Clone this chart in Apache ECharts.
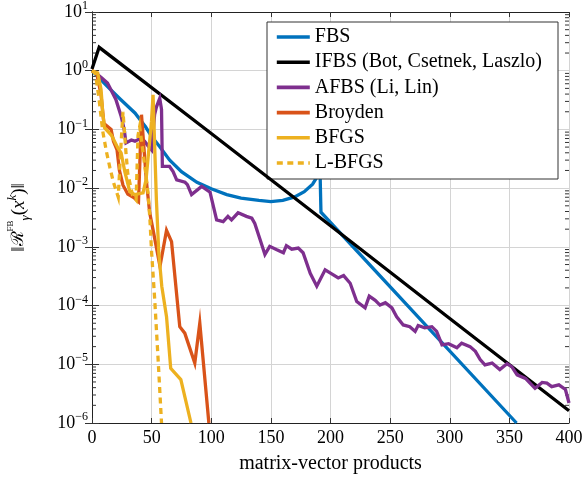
<!DOCTYPE html>
<html>
<head>
<meta charset="utf-8">
<script src="https://cdn.jsdelivr.net/npm/echarts@6/dist/echarts.min.js"></script>
<style>
  html, body { margin: 0; padding: 0; background: #fff; }
  #chart { width: 585px; height: 482px; }
</style>
</head>
<body>
<div id="chart"></div>
<script>
// Residual norm versus matrix-vector products, one [x, y] list per method
const fbs = [[0,1],[12,0.562],[24,0.324],[36,0.191],[45,0.110],[50,0.0759],[57,0.0501],[65,0.0302],[75,0.0191],[88,0.0126],[100,0.00977],[113,0.00776],[125,0.00676],[140,0.00617],[150,0.00589],[160,0.00617],[170,0.00708],[178,0.00871],[185,0.0117],[189,0.0158],[191,0.0316],[192,0.00389],[356,1e-6]];
const ifbs = [[0,1.07],[6,2.5],[100,0.0851],[200,0.00229],[300,6.03e-5],[400,1.62e-6]];
const afbs = [[0,1],[2,0.955],[8,0.759],[13,0.617],[20,0.324],[24.5,0.166],[27,0.1],[28.5,0.0589],[33,0.0661],[36,0.0631],[40,0.0692],[44,0.0631],[47,0.0525],[50,0.0447],[52.5,0.178],[54,0.240],[56.8,0.339],[58.3,0.219],[59,0.0234],[65,0.0234],[68,0.0191],[71,0.0138],[78,0.0126],[80,0.0115],[83.5,0.00776],[85,0.00794],[92,0.0107],[99,0.00851],[100.5,0.00631],[104.5,0.00288],[110,0.00269],[114,0.00331],[117,0.00288],[122.5,0.00380],[129.5,0.00331],[134,0.00309],[136.5,0.00251],[141,0.00132],[145,0.000741],[149,0.00102],[155,0.000891],[160.5,0.000794],[163,0.00105],[167.5,0.000912],[173,0.000955],[177,0.000794],[183,0.000355],[188.5,0.000214],[195.5,0.000407],[201,0.000347],[206.5,0.000295],[211,0.000324],[216.5,0.000240],[222,0.000117],[229,9.12e-5],[232.5,0.000145],[237.5,0.000123],[241.5,0.000102],[246,0.000112],[251.5,9.12e-5],[255.5,6.46e-5],[261,4.68e-5],[266.5,4.37e-5],[271,3.63e-5],[273.5,4.57e-5],[279,4.17e-5],[285,4.37e-5],[289,3.63e-5],[293.5,2.14e-5],[299,2.24e-5],[306,1.91e-5],[310,2.29e-5],[317,2.0e-5],[321.5,1.66e-5],[325.5,1.20e-5],[329.5,9.77e-6],[335.5,1.05e-5],[342,8.13e-6],[348,1.02e-5],[352,9.12e-6],[356.5,6.61e-6],[363.5,5.75e-6],[371.5,3.89e-6],[377.5,4.90e-6],[381.5,4.79e-6],[385.5,4.17e-6],[391.5,4.47e-6],[397,3.72e-6],[400,2.19e-6]];
const broyden = [[0,1],[4,0.891],[7.5,0.398],[10,0.126],[16,0.1],[18,0.0631],[21,0.0447],[23,0.0200],[26,0.0112],[30,0.00794],[35,0.00692],[39,0.00589],[41.5,0.178],[43,0.166],[45.7,0.0126],[48.4,0.00380],[51.2,0.00195],[57,0.000468],[62.5,0.00191],[66.7,0.00123],[73.6,4.37e-5],[77.8,3.39e-5],[86.2,1.05e-5],[90.4,5.01e-5],[98,1e-6]];
const bfgs = [[0,1],[4.8,0.912],[7.6,0.479],[9,0.191],[10.5,0.107],[16.3,0.0794],[21.8,0.0479],[24.4,0.0398],[27.5,0.0191],[31.7,0.00871],[35.9,0.00776],[42.8,0.00832],[45.3,0.0138],[49.9,0.138],[51.2,0.389],[54,0.00631],[56,0.000794],[58.5,0.000214],[62.5,6.46e-5],[66,8.51e-6],[74.5,5.50e-6],[83,1e-6]];
const lbfgs = [[0,1],[3,0.891],[6,0.316],[9,0.0933],[12,0.0427],[15,0.0224],[18,0.0126],[22,0.00708],[24.5,0.0631],[26,0.200],[28.5,0.0398],[30,0.0178],[34,0.00759],[37,0.00631],[38.6,0.0794],[40,0.112],[45,0.0182],[47,0.00832],[48.5,0.00316],[50,0.000794],[52.6,0.000126],[55.4,1.26e-5],[58.3,1e-6]];

const seriesNames = ['FBS', 'IFBS (Bot, Csetnek, Laszlo)', 'AFBS (Li, Lin)', 'Broyden', 'BFGS', 'L-BFGS'];
const seriesColors = ['#0072BD', '#000000', '#7E2F8E', '#D95319', '#EDB120', '#EDB120'];
const seriesData = [fbs, ifbs, afbs, broyden, bfgs, lbfgs];

const X_MIN = 0, X_MAX = 400, X_STEP = 50;
const Y_MIN = 1e-6, Y_MAX = 10;

// log-axis minor ticks at 2..9 within every decade
const minorTicks = [];
for (let e = -6; e < 1; e++) {
  for (let k = 2; k <= 9; k++) minorTicks.push([0, k * Math.pow(10, e)]);
}

const SERIF = 'Liberation Serif';

function decadeLabel(v) {
  const e = Math.round(Math.log10(v));
  const s = e < 0 ? '\u2212' + (-e) : String(e);
  return '{b|10}{s|' + s + '}';
}

const chart = echarts.init(document.getElementById('chart'), null, { renderer: 'canvas' });

const lineSeries = seriesData.map((d, i) => ({
  name: seriesNames[i],
  type: 'line',
  data: d,
  symbol: 'none',
  showSymbol: false,
  clip: true,
  z: 3 + i,
  lineStyle: { color: seriesColors[i], width: 3.3, type: i === 5 ? [6, 4.5] : 'solid', cap: 'butt', join: 'miter' },
  itemStyle: { color: seriesColors[i] },
  emphasis: { disabled: true }
}));

const tickSeries = {
  type: 'custom',
  silent: true,
  z: 2,
  data: minorTicks,
  renderItem: function (params, api) {
    const v = api.value(1);
    const a = api.coord([X_MIN, v]);
    const b = api.coord([X_MAX, v]);
    return {
      type: 'group',
      children: [
        { type: 'line', shape: { x1: a[0], y1: a[1], x2: a[0] + 4, y2: a[1] }, style: { stroke: '#333', lineWidth: 1 } },
        { type: 'line', shape: { x1: b[0] - 4, y1: b[1], x2: b[0], y2: b[1] }, style: { stroke: '#333', lineWidth: 1 } }
      ]
    };
  }
};

chart.setOption({
  animation: false,
  backgroundColor: '#fff',
  grid: { left: 92, right: 16, top: 12, bottom: 59, containLabel: false, outerBoundsMode: 'none' },
  legend: {
    orient: 'vertical',
    left: 267,
    top: 22,
    data: seriesNames,
    selectedMode: false,
    backgroundColor: '#fff',
    borderColor: '#333',
    borderWidth: 1,
    borderRadius: 0,
    padding: [5, 16, 6, 8],
    itemWidth: 33,
    itemHeight: 14,
    itemGap: 5.2,
    itemStyle: { opacity: 0 },
    lineStyle: { width: 3.6 },
    textStyle: { fontFamily: SERIF, fontSize: 20, color: '#000', lineHeight: 20 }
  },
  xAxis: [{
    type: 'value',
    min: X_MIN, max: X_MAX, interval: X_STEP,
    name: 'matrix-vector products',
    nameLocation: 'middle',
    nameGap: 31,
    nameTextStyle: { fontFamily: SERIF, fontSize: 20, color: '#000' },
    axisLine: { show: true, lineStyle: { color: '#222', width: 1 } },
    axisTick: { show: true, inside: true, length: 5, lineStyle: { color: '#333' } },
    axisLabel: { fontFamily: SERIF, fontSize: 18, color: '#000', margin: 6 },
    splitLine: { show: true, lineStyle: { color: '#d4d4d4', width: 1 } }
  }, {
    type: 'value',
    position: 'top',
    min: X_MIN, max: X_MAX, interval: X_STEP,
    axisLine: { show: true, lineStyle: { color: '#222', width: 1 } },
    axisTick: { show: true, inside: true, length: 5, lineStyle: { color: '#333' } },
    axisLabel: { show: false },
    splitLine: { show: false }
  }],
  yAxis: [{
    type: 'log',
    logBase: 10,
    min: Y_MIN, max: Y_MAX,
    name: '{n|\u2016}{r|\u211B}{sp|FB}{sb|\u03B3}{n|(}{i|x}{sk|k}{n|)\u2016}',
    nameLocation: 'middle',
    nameRotate: 90,
    nameGap: 60,
    nameTextStyle: {
      fontFamily: SERIF, fontSize: 19, color: '#000',
      rich: {
        n: { fontFamily: SERIF, fontSize: 19, lineHeight: 26, color: '#000' },
        r: { fontFamily: 'DejaVu Serif', fontSize: 17, lineHeight: 26, color: '#000' },
        sp: { fontFamily: SERIF, fontSize: 9, lineHeight: 12, verticalAlign: 'top', color: '#000' },
        sb: { fontFamily: SERIF, fontSize: 13, fontStyle: 'italic', lineHeight: 13, verticalAlign: 'bottom', color: '#000' },
        i: { fontFamily: SERIF, fontSize: 19, fontStyle: 'italic', lineHeight: 26, color: '#000' },
        sk: { fontFamily: SERIF, fontSize: 13, fontStyle: 'italic', lineHeight: 13, verticalAlign: 'top', color: '#000' }
      }
    },
    axisLine: { show: true, lineStyle: { color: '#222', width: 1 } },
    axisTick: { show: true, inside: true, length: 7, lineStyle: { color: '#333' } },
    axisLabel: {
      margin: 4,
      formatter: decadeLabel,
      rich: {
        b: { fontFamily: SERIF, fontSize: 18, lineHeight: 24, color: '#000' },
        s: { fontFamily: SERIF, fontSize: 12, lineHeight: 12, verticalAlign: 'top', color: '#000' }
      }
    },
    splitLine: { show: true, lineStyle: { color: '#d4d4d4', width: 1 } }
  }, {
    type: 'log',
    logBase: 10,
    position: 'right',
    min: Y_MIN, max: Y_MAX,
    axisLine: { show: true, lineStyle: { color: '#222', width: 1 } },
    axisTick: { show: true, inside: true, length: 7, lineStyle: { color: '#333' } },
    axisLabel: { show: false },
    splitLine: { show: false }
  }],
  series: [tickSeries].concat(lineSeries)
});
</script>
</body>
</html>
